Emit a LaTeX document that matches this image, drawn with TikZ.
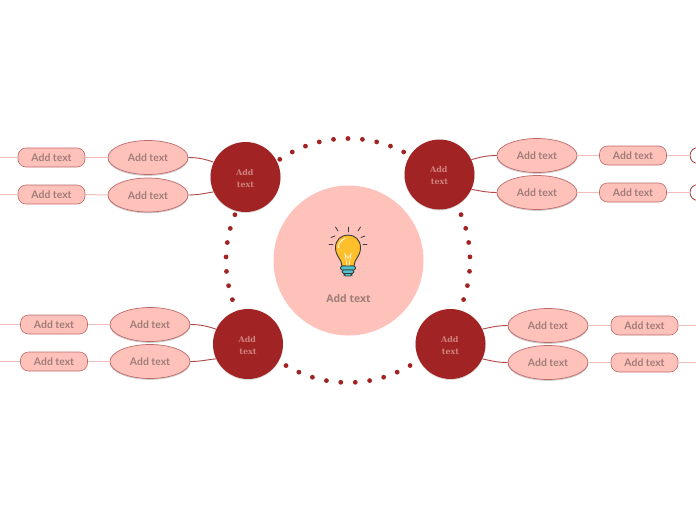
\documentclass[tikz,border=0pt]{standalone}
\usepackage{fontspec}
\setmainfont{Lato}
\newfontfamily\cserif{DejaVu Serif}
\newfontfamily\mainlab{Open Sans}
\usetikzlibrary{shadows,shapes.geometric}
\definecolor{pinkf}{HTML}{FFC2BB}
\definecolor{darkr}{HTML}{A12323}
\definecolor{edger}{HTML}{BE6A6A}
\definecolor{linel}{HTML}{F0BDBA}
\definecolor{txtc}{HTML}{A07C79}
\definecolor{ctxt}{HTML}{CF827C}
\definecolor{lnk}{HTML}{B24545}
\definecolor{bulby}{HTML}{FFBE2B}
\definecolor{bulbd}{HTML}{3A3A3A}
\definecolor{bulbt}{HTML}{4FC4CF}
\tikzset{
  x=1pt,y=-1pt,
  oval/.style={ellipse,draw=edger,line width=.7pt,fill=pinkf,minimum width=80pt,minimum height=34pt,inner sep=0pt,
    text=txtc,font=\fontsize{10.4}{12}\selectfont\bfseries,text height=8pt,text depth=0pt,
    copy shadow={draw=black!40,fill=black!40,opacity=.35,shadow xshift=0pt,shadow yshift=-1pt}},
  pill/.style={rectangle,rounded corners=8pt,draw=edger,line width=.6pt,fill=pinkf,minimum width=67pt,minimum height=19pt,inner sep=0pt,
    text=txtc,font=\fontsize{10.4}{12}\selectfont\bfseries,text height=8pt,text depth=0pt},
  hub/.style={circle,fill=darkr,minimum size=70pt,inner sep=0pt,text=ctxt,align=center,
    font=\cserif\fontsize{8}{12}\selectfont\bfseries,
    copy shadow={draw=none,fill=black!40,opacity=.35,shadow xshift=0pt,shadow yshift=-1pt}},
  bigc/.style={circle,fill=pinkf,minimum size=150pt,inner sep=0pt},
  stub/.style={circle,draw=darkr,line width=.7pt,fill=white,minimum size=16pt,inner sep=0pt},
  link/.style={draw=lnk,line width=.9pt},
  leaf/.style={draw=linel,line width=1pt},
  ringd/.style={draw=darkr,line width=4.8pt,line cap=round,dash pattern=on 0pt off 14.463pt},
  ray/.style={draw=bulbd,line width=.8pt,line cap=round},
}
\newcommand{\hubtxt}{\rule{0pt}{9pt}Add\hspace*{1.5pt}\\text}
\begin{document}
\begin{tikzpicture}
\path[use as bounding box] (0,0) rectangle (696,520);
\clip (0,0) rectangle (696,520);
\fill[white] (0,0) rectangle (696,520);
% dotted ring
\draw[ringd] (348,138.5) arc[start angle=-90,end angle=270,radius=122];
\node[bigc] (core) at (348.5,260.5) {};
\node[text=txtc,font=\mainlab\fontsize{10.5}{12}\selectfont\bfseries] (corelab) at (348.5,298.5) {Add text};
% bulb
\draw[ray] (348,232) -- (348,227);
\draw[ray] (338,231) -- (335.5,227);
\draw[ray] (358,231) -- (360.5,227);
\draw[ray] (331,237.5) -- (335,236) ;
\draw[ray] (365,236) -- (361,237.5);
\draw[ray] (329,244) -- (333,244);
\draw[ray] (363,244) -- (367,244);
\draw[draw=bulbd,line width=.9pt,fill=bulby] (342,266) .. controls (342,259) and (335.5,257) .. (335.5,247.5)
  .. controls (335.5,240) and (341,235) .. (348,235)
  .. controls (355,235) and (360.5,240) .. (360.5,247.5)
  .. controls (360.5,257) and (354,259) .. (354,266) -- cycle;
\draw[white,line width=.8pt,line cap=round] (338.5,248) .. controls (338.5,243) and (341,240) .. (345,238.5);
\draw[draw=white!80!bulby,line width=.7pt] (345,254) -- (347,266) -- (349,266) -- (351,254) -- (348,258) -- cycle;
\draw[draw=bulbd,line width=.9pt,fill=bulbt,rounded corners=1.5pt] (340.5,266) rectangle (355.5,270);
\draw[draw=bulbd,line width=.9pt,fill=bulbt,rounded corners=1.5pt] (342,270) rectangle (354,273.5);
\draw[draw=bulbd,line width=.9pt,fill=bulbt,rounded corners=1.5pt] (344,273.5) rectangle (352,276);
% hubs
\node[hub] (h1) at (245.5,177) {\hubtxt};
\node[hub] (h2) at (439.5,174.5) {\hubtxt};
\node[hub] (h3) at (248,344) {\hubtxt};
\node[hub] (h4) at (450.5,344) {\hubtxt};
% ovals
\node[oval] (a1) at (148,157.5) {Add text};
\node[oval] (a2) at (148,195) {Add text};
\node[oval] (b1) at (537,155.5) {Add text};
\node[oval] (b2) at (537,192.5) {Add text};
\node[oval] (c1) at (150,324.5) {Add text};
\node[oval] (c2) at (150,361.5) {Add text};
\node[oval] (d1) at (548,325.5) {Add text};
\node[oval] (d2) at (548,362.5) {Add text};
% pills
\node[pill] (pa1) at (51.5,157.5) {Add text};
\node[pill] (pa2) at (51.5,194.5) {Add text};
\node[pill] (pb1) at (633,155.5) {Add text};
\node[pill] (pb2) at (633,192.5) {Add text};
\node[pill] (pc1) at (54,324.5) {Add text};
\node[pill] (pc2) at (54,361.5) {Add text};
\node[pill] (pd1) at (644.5,325.5) {Add text};
\node[pill] (pd2) at (644.5,362.5) {Add text};
% stubs and free ends
\node[stub] (sb1) at (698,155.5) {};
\node[stub] (sb2) at (698,192.5) {};
\coordinate (ea1) at (-2,157.5);
\coordinate (ea2) at (-2,194.5);
\coordinate (ec1) at (-2,324.5);
\coordinate (ec2) at (-2,361.5);
\coordinate (ed1) at (698,325.5);
\coordinate (ed2) at (698,362.5);
% hub to oval
\draw[link] (a1.east) .. controls (199,157.5) and (206,159.5) .. (h1.155);
\draw[link] (a2.east) .. controls (199,195) and (206,193) .. (h1.205);
\draw[link] (b1.west) .. controls (486,155.5) and (479,157.5) .. (h2.25);
\draw[link] (b2.west) .. controls (486,192.5) and (479,190.5) .. (h2.-25);
\draw[link] (c1.east) .. controls (201,324.5) and (208,326.5) .. (h3.155);
\draw[link] (c2.east) .. controls (201,361.5) and (208,359.5) .. (h3.205);
\draw[link] (d1.west) .. controls (497,325.5) and (490,327.5) .. (h4.25);
\draw[link] (d2.west) .. controls (497,362.5) and (490,360.5) .. (h4.-25);
% leaf lines
\draw[leaf] (a1.west) -- (pa1.east);
\draw[leaf] (a2.west) -- (pa2.east);
\draw[leaf] (b1.east) -- (pb1.west);
\draw[leaf] (b2.east) -- (pb2.west);
\draw[leaf] (c1.west) -- (pc1.east);
\draw[leaf] (c2.west) -- (pc2.east);
\draw[leaf] (d1.east) -- (pd1.west);
\draw[leaf] (d2.east) -- (pd2.west);
\draw[leaf] (pa1.west) -- (ea1);
\draw[leaf] (pa2.west) -- (ea2);
\draw[leaf] (pc1.west) -- (ec1);
\draw[leaf] (pc2.west) -- (ec2);
\draw[leaf] (pb1.east) -- (sb1.west);
\draw[leaf] (pb2.east) -- (sb2.west);
\draw[leaf] (pd1.east) -- (ed1);
\draw[leaf] (pd2.east) -- (ed2);
\end{tikzpicture}
\end{document}
